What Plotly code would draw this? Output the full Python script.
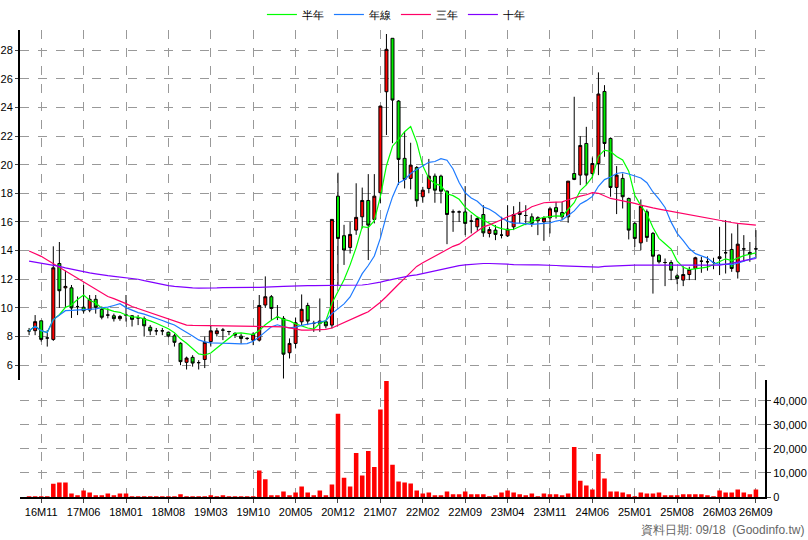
import plotly.graph_objects as go
import pandas as pd

# Monthly OHLC, 2016-09 .. 2026-09 (index 0..120)
opens = [8.4,8.41,9.1,7.9,7.8,13.1,11.4,11.4,10.1,10.05,9.85,10.6,9.9,9.5,9.45,9.25,9.5,9.45,9.3,9.25,
         8.65,8.4,8.4,8.3,8.05,7.53,6.2,6.55,6.18,6.4,7.65,8.2,8.45,8.35,8.22,8.03,7.87,7.75,7.75,10.2,
         10.78,9.34,9.27,6.87,7.52,9.03,10.17,8.92,8.92,9.03,8.8,17.8,15.04,14.22,15.43,16.36,17.5,16.18,18.04,25.09,
         28.82,24.44,20.44,19.04,19.8,17.76,18.34,19.2,19.2,18.15,16.7,16.7,16.7,16.06,15.66,16.52,15.2,15.43,15.08,15.03,
         15.66,16.69,16.45,16.36,16.08,16.01,16.29,17.0,16.66,16.36,19.38,19.27,21.48,19.38,20.08,25.11,21.83,18.41,19.04,17.64,
         15.9,14.54,16.71,15.2,13.68,13.17,13.17,12.24,11.94,12.33,12.75,13.26,13.22,13.17,13.45,13.85,14.08,12.52,14.12,13.87,14.12]
highs = [8.6,9.5,9.1,8.45,14.3,14.6,12.6,11.6,10.8,11.6,10.9,10.9,10.1,9.97,9.6,9.5,10.9,9.5,9.5,9.4,
         8.8,8.6,8.6,8.35,8.2,7.6,6.6,6.7,6.35,8.0,8.8,8.6,8.6,8.4,8.3,8.2,7.95,8.3,10.9,12.2,
         10.9,10.2,9.43,7.87,9.33,10.94,10.36,9.1,10.66,9.1,16.2,19.44,15.8,16.0,18.7,18.4,19.34,19.34,24.1,29.12,
         28.82,24.5,22.3,21.53,19.9,18.45,20.4,19.38,19.3,18.2,16.87,16.8,18.5,16.5,16.36,17.17,15.66,15.78,16.36,17.17,
         17.1,17.4,17.17,16.6,16.4,16.4,17.06,17.4,17.4,18.85,24.74,21.99,22.64,20.5,26.44,25.55,21.9,19.9,19.38,17.7,
         16.0,17.57,16.87,15.3,13.75,13.45,13.33,12.4,12.91,12.87,13.57,13.57,13.6,13.5,15.66,16.13,15.2,15.85,15.08,14.6,15.43]
lows = [8.1,8.1,7.65,7.3,7.7,10.0,10.0,9.3,9.5,9.6,9.7,9.6,9.2,9.27,9.05,9.1,9.05,8.7,8.8,8.0,
        8.1,8.1,8.1,7.95,7.3,6.0,5.7,5.9,5.7,5.8,7.3,8.0,7.75,8.1,7.9,7.5,7.75,7.4,7.65,10.0,
        9.15,9.15,5.07,6.47,7.17,8.8,8.8,8.33,8.33,8.57,8.57,11.6,13.0,13.8,15.1,15.55,13.34,15.9,17.3,22.07,
        21.5,18.58,18.34,18.27,17.06,17.34,18.0,17.34,17.3,14.45,15.31,16.0,15.08,15.2,15.38,14.96,14.92,14.73,14.85,14.96,
        15.43,15.9,15.78,15.66,15.08,14.68,15.2,16.24,16.13,15.94,18.92,18.57,18.57,19.1,19.27,20.55,17.76,16.55,16.94,14.78,
        14.26,14.03,14.61,11.0,13.1,11.52,11.94,11.66,11.52,11.94,11.94,12.45,12.6,12.7,12.29,12.4,12.52,12.05,13.22,13.22,13.45]
closes = [8.4,9.04,7.8,7.9,12.8,11.2,11.5,10.0,10.1,9.8,10.6,10.05,9.35,9.5,9.25,9.4,9.5,9.2,9.3,8.75,
          8.4,8.4,8.4,8.05,7.6,6.25,6.5,6.15,6.18,7.6,8.4,8.4,8.45,8.35,8.1,7.87,7.87,8.17,10.17,10.78,
          9.96,9.34,6.77,7.52,8.96,9.9,9.08,8.92,9.08,8.75,16.18,14.85,14.04,15.13,16.32,17.5,15.78,17.8,24.09,28.05,
          24.51,20.37,18.97,19.97,17.48,18.22,19.2,18.22,18.15,16.52,16.7,16.7,15.9,16.06,16.24,15.24,15.47,15.13,15.08,15.5,
          16.52,16.52,16.45,15.9,16.3,16.27,16.92,16.71,16.36,18.85,18.97,21.34,19.27,20.08,24.93,21.48,18.41,19.27,17.76,15.43,
          14.85,17.1,14.92,13.61,13.22,13.17,12.63,12.05,12.33,12.68,13.5,13.26,13.22,13.17,13.57,13.85,12.75,14.45,14.12,13.75,14.12]
volumes = [300,300,300,300,5500,6000,6000,1500,700,2700,1900,700,700,1500,700,1500,1500,300,300,300,
           300,300,300,300,300,1100,200,200,200,300,700,300,700,300,300,300,300,300,11000,7400,
           700,700,2300,700,1900,4400,1900,700,2700,700,5200,34600,8000,4400,18300,8900,19100,12500,36300,48200,
           13400,6400,6000,5600,2700,1500,1900,700,700,2300,1100,1100,2300,1100,1100,1100,300,700,1900,2700,
           1900,1100,700,1500,300,1500,1100,1100,700,1500,20800,6800,4800,3100,17900,7700,2300,2300,1900,1100,
           300,1900,1500,1500,1900,700,700,700,1100,1100,1100,1100,700,300,2700,1900,1900,3100,1900,1100,3100]
ma3y = [13.97,13.8,13.6,13.35,13.1,12.85,12.6,12.35,12.06,11.8,11.55,11.3,11.05,10.8,10.65,10.5,10.3,10.1,9.95,9.8,
        9.65,9.5,9.4,9.25,9.1,8.95,8.8,8.78,8.77,8.76,8.75,8.75,8.75,8.75,8.75,8.72,8.7,8.7,8.7,8.7,
        8.7,8.7,8.68,8.6,8.5,8.45,8.45,8.45,8.45,8.5,8.6,8.8,9.0,9.15,9.35,9.55,9.73,10.05,10.4,10.8,
        11.25,11.65,12.06,12.5,12.9,13.15,13.38,13.6,13.85,14.1,14.3,14.45,14.75,15.05,15.35,15.66,15.8,15.95,16.15,16.36,
        16.5,16.65,16.8,17.06,17.2,17.34,17.36,17.38,17.4,17.55,17.7,17.8,17.9,18.04,18.0,17.8,17.64,17.56,17.48,17.4,
        17.3,17.18,17.06,16.98,16.9,16.82,16.74,16.64,16.56,16.48,16.4,16.32,16.24,16.16,16.08,16.02,15.96,15.9,15.86,15.82,15.78]
ma10y = [13.27,13.2,13.15,13.08,13.0,12.9,12.8,12.7,12.6,12.5,12.45,12.38,12.3,12.25,12.2,12.15,12.1,12.06,12.0,11.9,
         11.8,11.7,11.6,11.55,11.5,11.45,11.4,11.4,11.38,11.37,11.37,11.4,11.42,11.43,11.43,11.43,11.43,11.43,11.43,11.43,
         11.45,11.48,11.5,11.52,11.55,11.55,11.55,11.55,11.55,11.55,11.55,11.55,11.55,11.55,11.55,11.6,11.65,11.7,11.8,11.9,
         12.0,12.1,12.2,12.25,12.3,12.4,12.5,12.6,12.7,12.8,12.9,12.95,13.0,13.05,13.1,13.1,13.1,13.1,13.08,13.05,
         13.02,13.0,13.0,13.0,13.0,13.0,12.98,12.96,12.94,12.92,12.9,12.88,12.85,12.82,12.85,12.9,12.92,12.95,12.98,12.98,
         12.98,12.98,12.98,12.98,12.98,12.98,12.98,12.98,12.98,12.98,12.98,12.98,12.98,12.98,12.98,13.05,13.1,13.2,13.3,13.38,13.45]
tick_idx = [2, 9, 16, 23, 30, 37, 44, 51, 58, 65, 72, 79, 86, 93, 100, 107, 114, 120]
tick_text = ["16M11","17M06","18M01","18M08","19M03","19M10","20M05","20M12","21M07","22M02",
             "22M09","23M04","23M11","24M06","25M01","25M08","26M03","26M09"]

x = list(range(len(closes)))
cs = pd.Series(closes)
ma6 = cs.rolling(6, min_periods=1).mean().tolist()
ma12 = cs.rolling(12, min_periods=1).mean().tolist()

fig = go.Figure()
fig.add_trace(go.Candlestick(x=x, open=opens, high=highs, low=lows, close=closes,
    increasing=dict(line=dict(color="black", width=1), fillcolor="#ff0000"),
    decreasing=dict(line=dict(color="black", width=1), fillcolor="#00ee00"),
    whiskerwidth=0, showlegend=False, xaxis="x", yaxis="y"))
for name, vals, col in [("半年", ma6, "#00ff00"), ("年線", ma12, "#1e7bff"),
                        ("三年", ma3y, "#ff0066"), ("十年", ma10y, "#8000ff")]:
    fig.add_trace(go.Scatter(x=x, y=vals, mode="lines", name=name,
                             line=dict(color=col, width=1.2), xaxis="x", yaxis="y"))
fig.add_trace(go.Bar(x=x, y=volumes, marker=dict(color="#ff0000", line=dict(width=0)),
                     width=0.75, showlegend=False, xaxis="x", yaxis="y2"))

grid = dict(showgrid=True, gridcolor="#999999", griddash="dash", gridwidth=1)
tf = dict(family="Liberation Sans, Arial", size=11, color="black")
fig.update_layout(
    width=808, height=540, margin=dict(l=20, r=43, t=30, b=43, autoexpand=False),
    paper_bgcolor="white", plot_bgcolor="white",
    font=dict(family="Liberation Sans, Arial", size=11, color="black"),
    legend=dict(orientation="h", xref="container", x=0.49, xanchor="center", yref="container", y=1.0,
                yanchor="top", font=dict(size=11), itemwidth=30, tracegroupgap=0),
    xaxis=dict(range=[-1.5, 121.5], tickvals=tick_idx, ticktext=tick_text, rangeslider=dict(visible=False),
               anchor="y2", showline=True, linecolor="black", linewidth=2, ticks="outside",
               ticklen=4, tickangle=0, tickfont=tf, automargin=False, **grid),
    yaxis=dict(domain=[0.25, 1], range=[4.95, 29.4], tickvals=list(range(6, 29, 2)),
               showline=True, linecolor="black", linewidth=2, ticks="outside", ticklen=3,
               tickfont=tf, automargin=False, zeroline=False, **grid),
    yaxis2=dict(domain=[0, 0.25], range=[0, 48500], side="right", tickvals=[0, 10000, 20000, 30000, 40000],
                tickformat=",", showline=True, linecolor="black", linewidth=2, ticks="outside",
                ticklen=4, tickfont=tf, automargin=False, zeroline=False, **grid),
    bargap=0.2,
    annotations=[dict(text="資料日期: 09/18  (Goodinfo.tw)", xref="paper", yref="paper", x=1.055, y=0,
                      yshift=-24, xanchor="right", yanchor="top", showarrow=False,
                      font=dict(color="#666666", size=12))],
)
fig.write_html("out.html", config={"displayModeBar": False},
               post_script="document.body.style.margin='0';document.body.style.overflow='hidden';")
